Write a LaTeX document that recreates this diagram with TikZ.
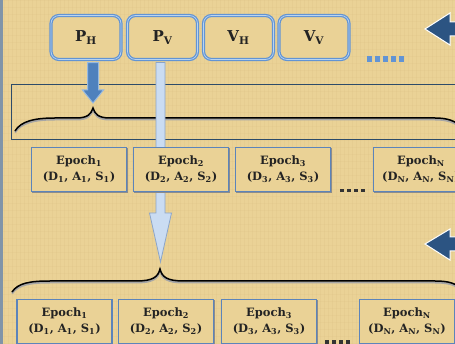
\documentclass[tikz,border=0pt]{standalone}
\usepackage{fontspec}
\setmainfont{DejaVu Serif}
\usetikzlibrary{calc}
\definecolor{bg}{RGB}{234,210,150}
\definecolor{bgline}{RGB}{200,170,110}
\definecolor{stripc}{RGB}{128,148,168}
\definecolor{framec}{RGB}{45,75,105}
\definecolor{topborder}{RGB}{98,148,212}
\definecolor{tophi}{RGB}{185,212,240}
\definecolor{epborder}{RGB}{92,132,186}
\definecolor{darkarrow}{RGB}{44,84,130}
\definecolor{midblue}{RGB}{79,129,189}
\definecolor{midblueedge}{RGB}{150,185,225}
\definecolor{lightfill}{RGB}{202,220,242}
\definecolor{lightedge}{RGB}{140,165,200}
\definecolor{txt}{RGB}{35,35,35}
\tikzset{
  topbox/.style={draw=topborder, line width=3.2pt, rounded corners=8pt, fill=bg,
    minimum width=70pt, minimum height=44pt, inner sep=0pt, text=txt,
    font=\fontsize{15}{17}\selectfont\bfseries,
    postaction={draw=tophi, line width=0.7pt}},
  epbox/.style={draw=epborder, line width=1.6pt, fill=bg,
    minimum width=95pt, minimum height=44pt, inner sep=0pt, align=center,
    text=txt, font=\fontsize{11.5}{16}\selectfont\bfseries,
    preaction={draw=black!45, line width=1.2pt, transform canvas={xshift=0.8pt,yshift=-1pt}}},
  bracec/.style={draw=black, line width=1.5pt,
    preaction={draw=black!35, line width=2pt, transform canvas={yshift=-1.5pt}}},
  fatblue/.style={fill=midblue, draw=midblueedge, line width=1pt},
  fatlight/.style={fill=lightfill, draw=lightedge, line width=0.8pt},
  darkarr/.style={fill=darkarrow, draw=white, line width=1pt},
}
\newcommand{\ep}[1]{Epoch\textsubscript{#1}\\(D\textsubscript{#1}, A\textsubscript{#1}, S\textsubscript{#1})}
\begin{document}
\begin{tikzpicture}[x=1pt,y=-1pt]
\useasboundingbox (0,0) rectangle (455,344);
\fill[bg] (0,0) rectangle (455,344);
% faint texture
\foreach \i in {0,4,...,455} {\draw[bgline, opacity=0.10, line width=0.6pt] (\i,0) -- (\i,344);}
\foreach \j in {0,7,...,344} {\draw[bgline, opacity=0.08, line width=0.5pt] (0,\j) -- (455,\j);}
\fill[stripc] (0,0) rectangle (3,344);

% frame
\draw[framec, line width=0.8pt] (11,84) rectangle (462,139);

% braces
\coordinate (t1) at (93,108);
\coordinate (t2) at (160,269);
\draw[bracec] (15,131) .. controls (21,121) and (35,118) .. (55,118) -- (76,118)
  .. controls (88,118) and (91,114) .. (t1)
  .. controls (95,114) and (98,118) .. (110,118) -- (435,118)
  .. controls (448,118) and (455,121) .. (462,127);
\draw[bracec] (12,292) .. controls (18,283) and (30,281) .. (50,281) -- (136,281)
  .. controls (153,281) and (158,277) .. (t2)
  .. controls (162,277) and (167,281) .. (184,281) -- (435,281)
  .. controls (448,281) and (455,283) .. (462,289);

% arrow tips (free ends)
\coordinate (a1) at (93,103);
\coordinate (a2) at (160.5,262);

% top boxes
\node[topbox] (ph) at (86,37.5) {P\textsubscript{H}};
\node[topbox] (pv) at (162.5,37.5) {P\textsubscript{V}};
\node[topbox] (vh) at (238.5,37.5) {V\textsubscript{H}};
\node[topbox] (vv) at (314,37.5) {V\textsubscript{V}};

% dots after top boxes
\foreach \x in {367,375,383,391,399} {\fill[topborder] (\x,56) rectangle ++(5,6);}

% blue arrow from P_H to top brace
\draw[fatblue] let \p1=($(ph.south)+(7,1.5)$), \p2=(a1) in
  (\x1-5.5pt,\y1) -- (\x1-5.5pt,\y2+13pt) -- (\x1-10.5pt,\y2+13pt) -- (\x2,\y2)
  -- (\x1+10.5pt,\y2+13pt) -- (\x1+5.5pt,\y2+13pt) -- (\x1+5.5pt,\y1) -- cycle;

% light arrow from P_V to bottom brace
\draw[fatlight] let \p1=($(pv.south)+(-2,1.5)$), \p2=(a2) in
  (\x1-4.5pt,\y1) -- (\x1-4.5pt,\y2+49pt) -- (\x1-11pt,\y2+49pt) -- (\x2,\y2)
  -- (\x1+11pt,\y2+49pt) -- (\x1+4.5pt,\y2+49pt) -- (\x1+4.5pt,\y1) -- cycle;

% middle epochs
\node[epbox] (m1) at (79,169.5) {\ep{1}};
\node[epbox] (m2) at (181,169.5) {\ep{2}};
\node[epbox] (m3) at (283,169.5) {\ep{3}};
\node[epbox] (m4) at (421,169.5) {\ep{N}};
\foreach \x in {340,347,354,361} {\fill[black!80] (\x,189) rectangle ++(3.5,3.5);}

% bottom epochs
\node[epbox] (b1) at (64.5,321.5) {\ep{1}};
\node[epbox] (b2) at (166,321.5) {\ep{2}};
\node[epbox] (b3) at (269,321.5) {\ep{3}};
\node[epbox] (b4) at (407,321.5) {\ep{N}};
\foreach \x in {325,332,339,346} {\fill[black!80] (\x,340) rectangle ++(3.5,5);}

% right side arrows
\draw[darkarr] (425,29) -- (450,13) -- (450,22) -- (462,22) -- (462,36) -- (450,36) -- (450,45) -- cycle;
\draw[darkarr] (425,244) -- (450,229) -- (450,237) -- (462,237) -- (462,251) -- (450,251) -- (450,260) -- cycle;
\end{tikzpicture}
\end{document}
